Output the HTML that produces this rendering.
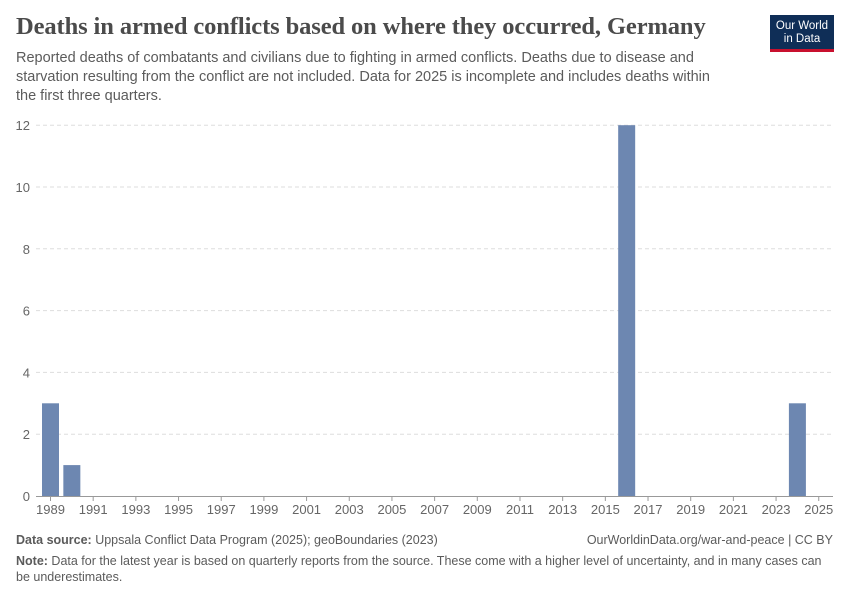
<!DOCTYPE html>
<html><head><meta charset="utf-8"><style>
body{margin:0;background:#fff;font-family:"Liberation Sans",sans-serif;}
#wrap{position:relative;width:850px;height:600px;overflow:hidden;}
.t{position:absolute;margin:0;}
</style></head><body>
<div id="wrap">
<h1 class="t" style="left:16px;top:13px;font-family:'Liberation Serif',serif;font-size:24.5px;font-weight:bold;color:#4b4b4b;letter-spacing:-0.1px">Deaths in armed conflicts based on where they occurred, Germany</h1>
<p class="t" style="left:16px;top:49px;width:700px;font-size:14.5px;line-height:19px;color:#5b5b5b">Reported deaths of combatants and civilians due to fighting in armed conflicts. Deaths due to disease and starvation resulting from the conflict are not included. Data for 2025 is incomplete and includes deaths within the first three quarters.</p>
<div class="t" style="left:770px;top:15px;width:64px;height:37px;background:#0f2e57;border-bottom:3px solid #c8102e;color:#fff;font-size:11.5px;line-height:13px;text-align:center;padding-top:5px;box-sizing:border-box">Our World<br>in Data</div>
<svg id="chart" width="850" height="600" style="position:absolute;left:0;top:0"></svg>
<p class="t" style="left:16px;top:533px;font-size:12.5px;color:#5b5b5b"><b>Data source:</b> Uppsala Conflict Data Program (2025); geoBoundaries (2023)</p>
<p class="t" style="right:17px;top:533px;font-size:12.5px;color:#5b5b5b">OurWorldinData.org/war-and-peace | CC BY</p>
<p class="t" style="left:16px;top:553px;width:810px;font-size:12.5px;line-height:16px;color:#5b5b5b"><b>Note:</b> Data for the latest year is based on quarterly reports from the source. These come with a higher level of uncertainty, and in many cases can be underestimates.</p>
</div>
<script>
const years=[1989,1990,2016,2024];
const deaths=[3,1,12,3];
const yTicks=[0,2,4,6,8,10,12];
const xTicks=[1989,1991,1993,1995,1997,1999,2001,2003,2005,2007,2009,2011,2013,2015,2017,2019,2021,2023,2025];
const svg=document.getElementById('chart');
const NS='http://www.w3.org/2000/svg';
const x=y=>50.5+(y-1989)*21.34;
const yS=v=>496-v*30.9;
function mk(t,a){const e=document.createElementNS(NS,t);for(const k in a)e.setAttribute(k,a[k]);svg.appendChild(e);return e;}
yTicks.forEach(v=>{
  if(v>0){const g=mk('line',{x1:36,x2:833,y1:yS(v),y2:yS(v),stroke:'#ddd','stroke-dasharray':'4,3'});
  
  }
  const t=mk('text',{x:30,y:yS(v)+5,'text-anchor':'end','font-size':13,fill:'#666','font-family':'Liberation Sans,sans-serif'});
  t.textContent=v;
  
  
});
years.forEach((yr,i)=>{
  const r=mk('rect',{x:x(yr)-8.5,y:yS(deaths[i]),width:17,height:yS(0)-yS(deaths[i]),fill:'#6d87b1'});
  
  
});
const ax=mk('line',{x1:36,x2:833,y1:496.5,y2:496.5,stroke:'#999'});


xTicks.forEach(yr=>{
  const tk=mk('line',{x1:x(yr),x2:x(yr),y1:496,y2:501,stroke:'#999'});
  
  
  const t=mk('text',{x:x(yr),y:514,'text-anchor':'middle','font-size':13,fill:'#666','font-family':'Liberation Sans,sans-serif'});
  t.textContent=yr;
  
  
});
</script>
</body></html>
